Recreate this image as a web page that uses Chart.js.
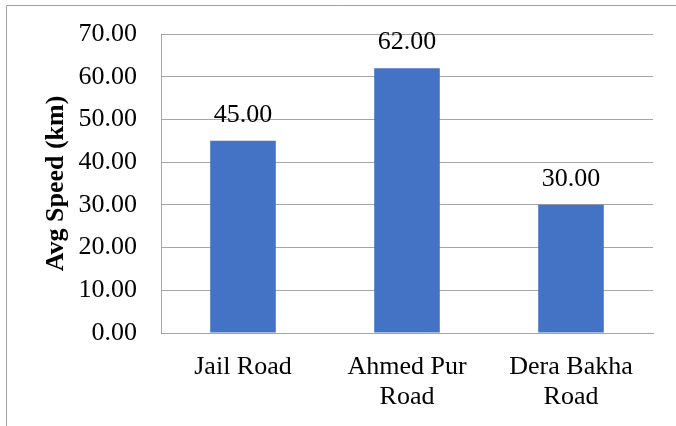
<!DOCTYPE html>
<html>
<head>
<meta charset="utf-8">
<script src="https://cdn.jsdelivr.net/npm/chart.js@4"></script>
<style>
  body { margin: 0; background: #fff; }
  canvas { display: block; }
</style>
</head>
<body>
<canvas id="speed-chart" width="676" height="426"></canvas>
<script>
const roads = [['Jail Road'], ['Ahmed Pur', 'Road'], ['Dera Bakha', 'Road']];
const avgSpeeds = [45, 62, 30];
const yMin = 0;
const yMax = 70;
const yStep = 10;

const serif = "'Liberation Serif', 'Times New Roman', serif";
const lineGray = '#a6a6a6';

// thin frame round the chart (left and top edges show in the picture)
const framePlugin = {
    id: 'frame',
    beforeDraw(chart) {
        const ctx = chart.ctx;
        ctx.save();
        ctx.strokeStyle = '#a0a0a0';
        ctx.lineWidth = 1;
        ctx.beginPath();
        ctx.moveTo(6.5, chart.height);
        ctx.lineTo(6.5, 5.5);
        ctx.lineTo(chart.width, 5.5);
        ctx.stroke();
        ctx.restore();
    }
};

// value labels above the bars
const valueLabels = {
    id: 'valueLabels',
    afterDatasetsDraw(chart) {
        const ctx = chart.ctx;
        const meta = chart.getDatasetMeta(0);
        ctx.save();
        ctx.font = '26px ' + serif;
        ctx.fillStyle = '#000';
        ctx.textAlign = 'center';
        ctx.textBaseline = 'middle';
        meta.data.forEach((bar, i) => {
            ctx.fillText(avgSpeeds[i].toFixed(2), bar.x, bar.y - 26);
        });
        ctx.restore();
    }
};

new Chart(document.getElementById('speed-chart'), {
    type: 'bar',
    data: {
        labels: roads,
        datasets: [{
            data: avgSpeeds,
            backgroundColor: '#4472C4',
            categoryPercentage: 1,
            barPercentage: 0.4
        }]
    },
    options: {
        responsive: false,
        animation: false,
        layout: { padding: { left: 0, top: 34, right: 23, bottom: 0 } },
        plugins: {
            legend: { display: false },
            tooltip: { enabled: false }
        },
        scales: {
            x: {
                grid: { display: false, drawTicks: false },
                border: { color: lineGray, width: 1 },
                ticks: {
                    color: '#000',
                    padding: 19,
                    maxRotation: 0,
                    font: { family: serif, size: 26, lineHeight: 30 / 26 }
                },
                afterFit(scale) { scale.height = 93; }
            },
            y: {
                min: yMin,
                max: yMax,
                ticks: {
                    stepSize: yStep,
                    color: '#000',
                    padding: 24,
                    font: { family: serif, size: 26 },
                    callback: v => v.toFixed(2)
                },
                grid: { color: lineGray, drawTicks: false },
                border: { color: lineGray, width: 1 },
                title: {
                    display: true,
                    text: 'Avg Speed (km)',
                    color: '#000',
                    font: { family: serif, size: 26, weight: 'bold', lineHeight: 1 },
                    padding: { top: 43, bottom: 0 }
                },
                afterFit(scale) {
                    scale.width = 161;
                    // tick padding would otherwise push the plot top down
                    scale.paddingTop = 0;
                    scale.paddingBottom = 0;
                }
            }
        }
    },
    plugins: [framePlugin, valueLabels]
});
</script>
</body>
</html>
